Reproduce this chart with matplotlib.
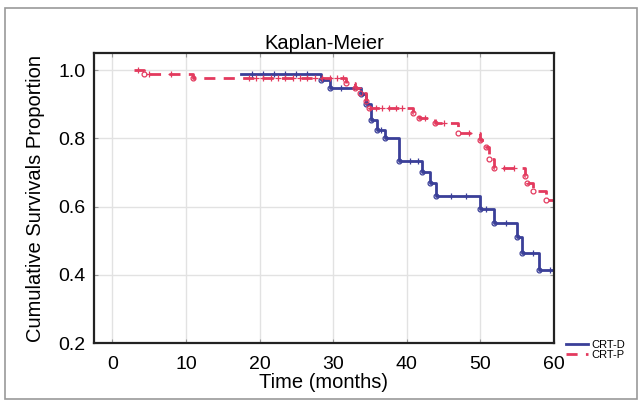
import numpy as np
import matplotlib
matplotlib.use('Agg')
import matplotlib.pyplot as plt
from matplotlib.patches import Rectangle

plt.rcParams['font.family'] = ['Liberation Sans', 'DejaVu Sans']

# Kaplan-Meier step data (time in months, survival)
crtd_t = [17.5, 28.4, 29.5, 33.8, 34.4, 35.2, 35.9, 37.0, 38.9, 42.1, 43.1, 44.0, 49.9, 51.9, 55.0, 55.7, 58.0, 60.0]
crtd_s = [0.99, 0.97, 0.947, 0.93, 0.90, 0.853, 0.824, 0.80, 0.735, 0.70, 0.668, 0.632, 0.594, 0.553, 0.51, 0.465, 0.415, 0.415]
crtd_cens = [19, 20.5, 22, 23.5, 25, 26.5, 31, 36.5, 40.5, 41.5, 46, 48, 50.8, 53.5, 57.2, 59.5]

crtp_t = [3.0, 4.3, 11.0, 31.8, 32.9, 33.6, 34.5, 34.9, 40.8, 41.7, 43.8, 46.9, 49.9, 50.8, 51.2, 51.9, 56.0, 56.3, 57.1, 58.9, 60.0]
crtp_s = [1.0, 0.99, 0.977, 0.962, 0.947, 0.932, 0.91, 0.89, 0.873, 0.86, 0.845, 0.815, 0.794, 0.774, 0.74, 0.712, 0.69, 0.67, 0.647, 0.618, 0.618]
crtp_cens = [3.5, 5, 8, 18.5, 19.5, 20.5, 21.5, 22.5, 23.5, 24.5, 25.5, 26.5, 27.5, 28.5, 29.5, 30.5, 31.3,
             35.8, 36.7, 37.6, 38.5, 39.4, 42.5, 45, 48.5, 53.2, 54.5]

blue = '#3a3f98'
red = '#e33a5e'


def surv_at(t, times, surv):
    idx = np.searchsorted(times, t, side='right') - 1
    return np.array(surv)[np.clip(idx, 0, len(surv) - 1)]


fig = plt.figure(figsize=(6.42, 4.05), dpi=100)
ax = fig.add_axes([0.1464, 0.153, 0.7165, 0.716])

ax.step(crtd_t, crtd_s, where='post', color=blue, lw=2, label='CRT-D')
ax.step(crtp_t, crtp_s, where='post', color=red, lw=2, dashes=(4, 3), label='CRT-P')

# event circles at each drop, plus marks at censored times
ax.plot(crtd_t[1:-1], crtd_s[1:-1], 'o', ms=3.5, mfc='none', mec=blue, mew=0.9)
ax.plot(crtp_t[1:-1], crtp_s[1:-1], 'o', ms=3.5, mfc='none', mec=red, mew=0.9)
ax.plot(crtd_cens, surv_at(crtd_cens, crtd_t, crtd_s), '+', ms=4, color=blue, mew=0.9)
ax.plot(crtp_cens, surv_at(crtp_cens, crtp_t, crtp_s), '+', ms=4, color=red, mew=0.9)

ax.set_xlim(-2.5, 60)
ax.set_ylim(0.2, 1.05)
ax.set_xticks([0, 10, 20, 30, 40, 50, 60])
ax.set_yticks([0.2, 0.4, 0.6, 0.8, 1.0])
ax.set_yticklabels(['0.2', '0.4', '0.6', '0.8', '1.0'])
ax.grid(True, color='#e2e2e2', lw=1)
ax.set_axisbelow(True)
ax.tick_params(direction='in', length=3, color='#999999', labelsize=14, top=True, right=True)
ax.tick_params(axis='x', pad=9)
ax.tick_params(axis='y', pad=6)
for sp in ax.spines.values():
    sp.set_linewidth(1.6)
    sp.set_color('#222222')

ax.set_title('Kaplan-Meier', fontsize=14.5, pad=3)
ax.set_xlabel('Time (months)', fontsize=14.5, labelpad=0)
ax.set_ylabel('Cumulative Survivals Proportion', fontsize=14.5, labelpad=10)

fig.legend(loc='upper left', bbox_to_anchor=(0.882, 0.16), frameon=False,
           fontsize=8, handlelength=2.0, labelspacing=0.0, handletextpad=0.3,
           borderaxespad=0, borderpad=0)

fig.patches.append(Rectangle((5 / 642, 6 / 405), 632 / 642, 391 / 405, transform=fig.transFigure,
                             fill=False, edgecolor='#999999', lw=1.2))

fig.savefig('out.png', dpi=100)
